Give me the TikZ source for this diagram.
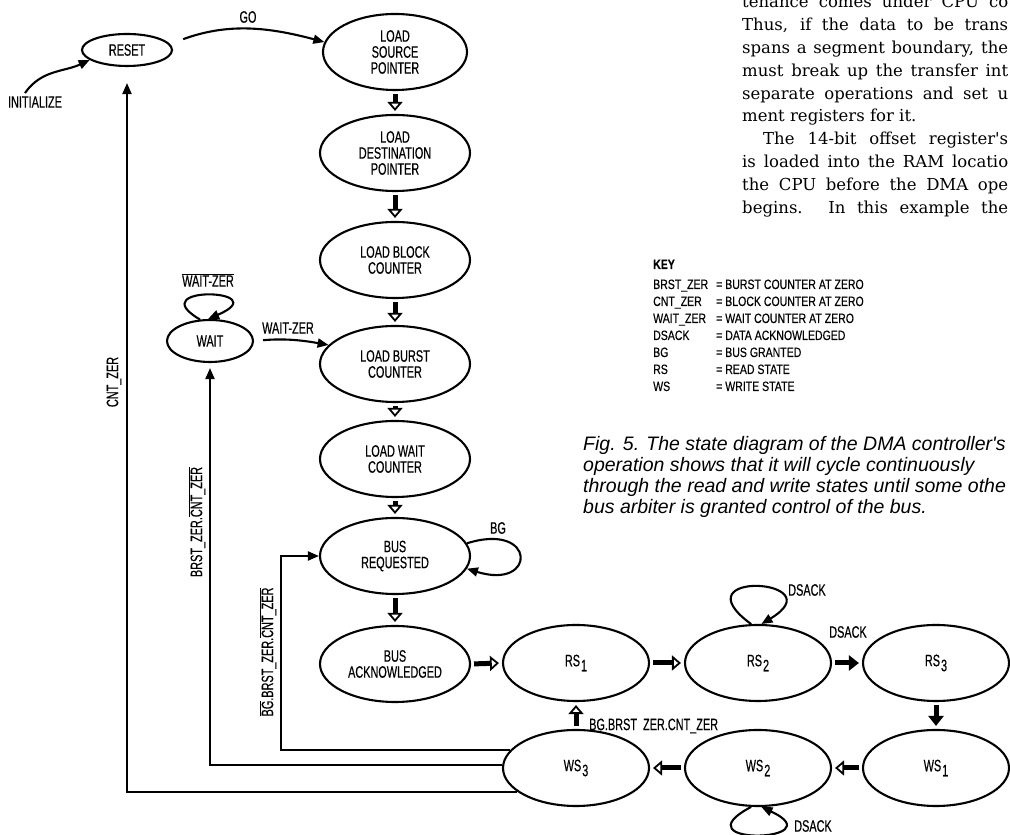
\documentclass[tikz,border=0pt]{standalone}
\usepackage{fontspec}
\setmainfont{Liberation Sans}
\newfontfamily\lblfont[FakeStretch=0.66,FakeBold=0.4]{Liberation Sans}
\newfontfamily\keyfnt[FakeStretch=0.78,FakeBold=0.3]{Liberation Sans}
\newfontfamily\capfnt{Liberation Sans}
\newfontfamily\bodyfnt{DejaVu Serif}
\usetikzlibrary{shapes.geometric,arrows.meta}
\newcommand{\jline}[1]{\makebox[266pt][s]{#1}}
\begin{document}
\begin{tikzpicture}[x=1pt,y=1pt,
  st/.style={ellipse, draw, line width=2.1pt, inner sep=0pt, minimum width=150pt, minimum height=76pt, align=center, font=\lblfont\fontsize{16.5}{16}\selectfont},
  rsws/.style={st, minimum width=146pt, minimum height=76pt},
  lbl/.style={font=\lblfont\fontsize{16.5}{16}\selectfont, inner sep=0pt},
  keyt/.style={font=\keyfnt\fontsize{13.5}{13}\selectfont, inner sep=0pt, anchor=base west},
  capt/.style={font=\capfnt\itshape\fontsize{19.5}{21}\selectfont, inner sep=0pt, anchor=base west},
  bodyt/.style={font=\bodyfnt\fontsize{16.5}{20}\selectfont, inner sep=0pt, anchor=base west},
  thinarr/.style={line width=2.1pt, -{Triangle[length=11pt,width=9pt]}},
  fatopen/.style={line width=5pt, -{Triangle[length=9pt,width=15pt,fill=white,line width'=1.8pt]}, shorten <=3pt, shorten >=3pt},
  fatsolid/.style={line width=5pt, -{Triangle[length=10pt,width=15pt]}, shorten <=3pt, shorten >=3pt}
]
\useasboundingbox (0,0) rectangle (1010,835);
\fill[white] (0,0) rectangle (1010,835);
\clip (0,0) rectangle (1010,835);

% ---------- states ----------
\node[st, minimum width=90pt, minimum height=32pt] (RESET) at (127,785) {RESET};
\node[st, minimum width=144pt] (SRC) at (395,783) {LOAD\\SOURCE\\POINTER};
\node[st] (DEST) at (395,682) {LOAD\\DESTINATION\\POINTER};
\node[st] (BLOCK) at (395,575) {LOAD BLOCK\\COUNTER};
\node[st] (BURST) at (395,471) {LOAD BURST\\COUNTER};
\node[st] (WAITC) at (395,376) {LOAD WAIT\\COUNTER};
\node[st] (BUSREQ) at (395,279) {BUS\\REQUESTED};
\node[st] (BUSACK) at (395,171) {BUS\\ACKNOWLEDGED};
\node[st, minimum width=86pt, minimum height=42pt] (WAIT) at (210,494) {WAIT};
\node[rsws] (RS1) at (576,172) {RS\kern1pt\raisebox{-5pt}{1}};
\node[rsws] (RS2) at (758,172) {RS\kern1pt\raisebox{-5pt}{2}};
\node[rsws] (RS3) at (936,172) {RS\kern1pt\raisebox{-5pt}{3}};
\node[rsws] (WS3) at (576,67) {WS\kern1pt\raisebox{-5pt}{3}};
\node[rsws] (WS2) at (758,67) {WS\kern1pt\raisebox{-5pt}{2}};
\node[rsws] (WS1) at (936,67) {WS\kern1pt\raisebox{-5pt}{1}};

% ---------- thin transitions ----------
\coordinate (init) at (25,742);
\draw[thinarr] (init) to[out=55,in=205] (RESET.195);
\node[lbl] (initlbl) at (35,733) {INITIALIZE};

\draw[thinarr, shorten <=14pt] (RESET.8) to[out=20,in=165] (SRC.172);
\node[lbl] (golbl) at (248,818) {GO};

\draw[thinarr] (WAIT.115) .. controls +(-60,35) and +(70,30) .. (WAIT.95);
\node[lbl] (wzloop) at (208,555) {$\overline{\mbox{WAIT-ZER}}$};
\draw[thinarr, shorten <=9pt] (WAIT.east) to[out=5,in=170] (BURST.164);
\node[lbl] (wzarr) at (288,507) {WAIT-ZER};

\draw[thinarr] (BUSREQ.10) .. controls +(70,22) and +(70,-22) .. (BUSREQ.350);
\node[lbl] (bglbl) at (498,307) {BG};

\draw[thinarr] (RS2.100) .. controls +(-75,55) and +(75,45) .. (RS2.85);
\node[lbl] (ds1) at (807,245) {DSACK};
\draw[thinarr] (WS2.260) .. controls +(-75,-40) and +(75,-35) .. (WS2.275);
\node[lbl] (ds3) at (813,9) {DSACK};

% return lines
\draw[thinarr, shorten >=16pt] (WS3.202) -| (RESET.south);
\node[lbl, rotate=90] (cntlbl) at (114,453) {CNT\_ZER};
\draw[thinarr, shorten >=5pt] (WS3.178) -| (WAIT.south);
\node[lbl, rotate=90] (brlbl) at (197,313) {BRST\_ZER.$\overline{\mbox{CNT\_ZER}}$};
\coordinate (brturn) at (281,279);
\draw[thinarr] (WS3.165) -| (brturn) -- (BUSREQ.west);
\node[lbl, rotate=90] (bglbl2) at (268,183) {$\overline{\mbox{BG}}$.BRST\_ZER.$\overline{\mbox{CNT\_ZER}}$};

% ---------- fat transitions ----------
\draw[fatopen] (SRC.south) -- (DEST.north);
\draw[fatopen] (DEST.south) -- (BLOCK.north);
\draw[fatopen] (BLOCK.south) -- (BURST.north);
\draw[fatopen] (BURST.south) -- (WAITC.north);
\draw[fatopen] (WAITC.south) -- (BUSREQ.north);
\draw[fatopen] (BUSREQ.south) -- (BUSACK.north);
\draw[fatopen] (BUSACK.east) -- (RS1.west);
\draw[fatopen] (RS1.east) -- (RS2.west);
\draw[fatsolid] (RS2.east) -- (RS3.west);
\node[lbl] (ds2) at (848,203) {DSACK};
\draw[fatsolid] (RS3.south) -- (WS1.north);
\draw[fatopen] (WS1.west) -- (WS2.east);
\draw[fatopen] (WS2.west) -- (WS3.east);
\draw[fatopen] (WS3.north) -- (RS1.south);
\node[lbl, anchor=west] (wslbl) at (589,109) {BG.BRST\ \ ZER.CNT\_ZER};

% ---------- key ----------
\node[keyt] (k0) at (653,566) {\bfseries KEY};
\node[keyt] (k1a) at (653,546) {BRST\_ZER};  \node[keyt] (k1b) at (716,546) {= BURST COUNTER AT ZERO};
\node[keyt] (k2a) at (653,529) {CNT\_ZER};   \node[keyt] (k2b) at (716,529) {= BLOCK COUNTER AT ZERO};
\node[keyt] (k3a) at (653,512) {WAIT\_ZER};  \node[keyt] (k3b) at (716,512) {= WAIT COUNTER AT ZERO};
\node[keyt] (k4a) at (653,495) {DSACK};      \node[keyt] (k4b) at (716,495) {= DATA ACKNOWLEDGED};
\node[keyt] (k5a) at (653,478) {BG};         \node[keyt] (k5b) at (716,478) {= BUS GRANTED};
\node[keyt] (k6a) at (653,461) {RS};         \node[keyt] (k6b) at (716,461) {= READ STATE};
\node[keyt] (k7a) at (653,444) {WS};         \node[keyt] (k7b) at (716,444) {= WRITE STATE};

% ---------- caption ----------
\node[capt] (c1) at (583,384) {Fig. 5. The state diagram of the DMA controller's};
\node[capt] (c2) at (583,363) {operation shows that it will cycle continuously};
\node[capt] (c3) at (583,342) {through the read and write states until some othe};
\node[capt] (c4) at (583,321) {bus arbiter is granted control of the bus.};

% ---------- body text ----------
\node[bodyt] (t1) at (742,827) {\jline{tenance comes under CPU co}};
\node[bodyt] (t2) at (742,804.2) {\jline{Thus, if the data to be trans}};
\node[bodyt] (t3) at (742,781.4) {\jline{spans a segment boundary, the}};
\node[bodyt] (t4) at (742,758.6) {\jline{must break up the transfer int}};
\node[bodyt] (t5) at (742,735.8) {\jline{separate operations and set u}};
\node[bodyt] (t6) at (742,713) {ment registers for it.};
\node[bodyt] (t7) at (763,690.2) {\makebox[245pt][s]{The 14-bit offset register's}};
\node[bodyt] (t8) at (742,667.4) {\jline{is loaded into the RAM locatio}};
\node[bodyt] (t9) at (742,644.6) {\jline{the CPU before the DMA ope}};
\node[bodyt] (t10) at (742,621.8) {\jline{begins. In this example the}};
\end{tikzpicture}
\end{document}
